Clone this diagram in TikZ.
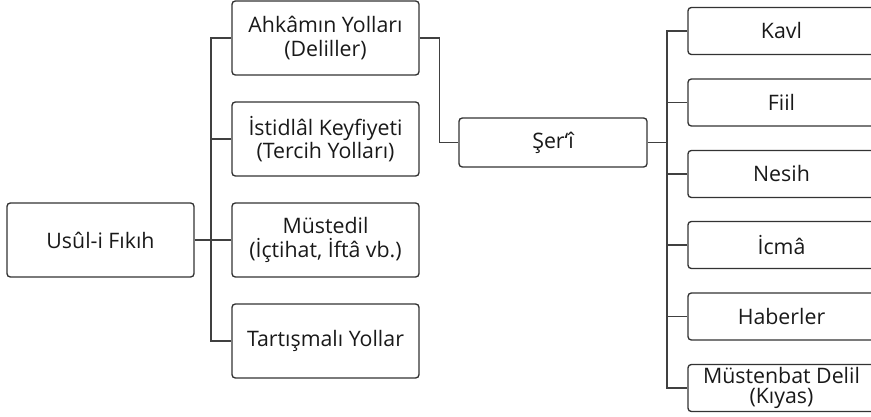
\documentclass[tikz,border=0pt]{standalone}
\usepackage{fontspec}
\setmainfont{Open Sans}
\usetikzlibrary{calc}

\tikzset{every picture/.style={line width=0.75pt}}
\tikzset{
  kutu/.style={draw=black!80, rounded corners=2.5pt, line width=1pt, align=center,
    minimum width=140.25pt, minimum height=55.5pt, inner sep=1pt,
    font=\fontsize{16pt}{17.5pt}\selectfont, text=black!90},
  kucuk/.style={kutu, minimum height=35.25pt},
  bag/.style={draw=black!75, line width=1pt}
}

\begin{document}
\begin{tikzpicture}[x=0.75pt,y=0.75pt,yscale=-1,xscale=1]
\clip (0,0) rectangle (871,417);

%Nodes: first level
\node[kutu] (usul) at (100.5,240) {Usûl-i Fıkıh};

%Nodes: second level
\node[kutu] (ahkam) at (325.5,38) {Ahkâmın Yolları\\(Deliller)};
\node[kutu] (istidlal) at (325.5,139) {İstidlâl Keyfiyeti\\(Tercih Yolları)};
\node[kutu] (mustedil) at (325.5,240) {Müstedil\\(İçtihat, İftâ vb.)};
\node[kutu] (tartisma) at (325.5,341) {Tartışmalı Yollar};

%Node: Şer'î
\node[kucuk, minimum width=141pt, minimum height=36.75pt] (seri) at (553,142.5) {Şer‘î};

%Nodes: third level
\node[kucuk] (kavl) at (781.5,31) {Kavl};
\node[kucuk] (fiil) at (781.5,102.5) {Fiil};
\node[kucuk] (nesih) at (781.5,174) {Nesih};
\node[kucuk] (icma) at (781.5,245) {İcmâ};
\node[kucuk] (haber) at (781.5,316.5) {Haberler};
\node[kucuk, font=\fontsize{16pt}{15pt}\selectfont] (mustenbat) at (781.5,388) {Müstenbat Delil\\(Kıyas)};

%Spines
\coordinate (sol) at (211,0);
\coordinate (sag) at (667,0);

%Lines: left tree
\draw[bag] (ahkam.west) -- (ahkam.west -| sol) -- (tartisma.west -| sol) -- (tartisma.west);
\foreach \n in {istidlal,mustedil}
  \draw[bag] (\n.west) -- (\n.west -| sol);
\draw[bag] (usul.east) -- (mustedil.west);

%Line: Ahkâmın Yolları to Şer'î
\draw[bag] (ahkam.east) -- ++(20,0) |- (seri.west);

%Lines: right tree
\draw[bag] (kavl.west) -- (kavl.west -| sag) -- (mustenbat.west -| sag) -- (mustenbat.west);
\foreach \n in {fiil,nesih,icma,haber}
  \draw[bag] (\n.west) -- (\n.west -| sag);
\draw[bag] (seri.east) -- (seri.east -| sag);

\end{tikzpicture}
\end{document}
